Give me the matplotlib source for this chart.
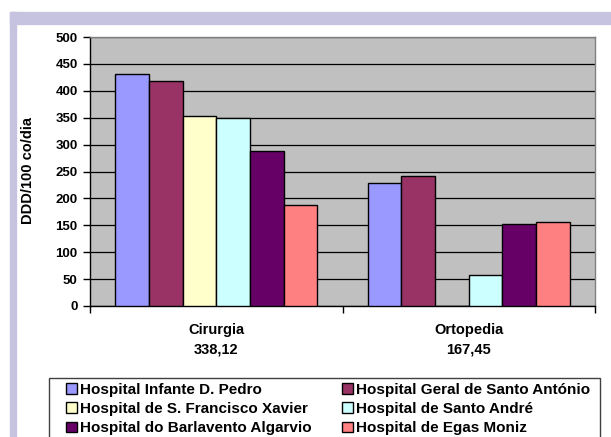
import matplotlib
matplotlib.use("Agg")
import matplotlib.pyplot as plt
from matplotlib.patches import Rectangle
import numpy as np

plt.rcParams['font.family'] = ['Liberation Sans', 'DejaVu Sans']
plt.rcParams['font.weight'] = 'bold'

categories = ["Cirurgia", "Ortopedia"]
category_means = ["338,12", "167,45"]
hospitals = [
    "Hospital Infante D. Pedro",
    "Hospital Geral de Santo António",
    "Hospital de S. Francisco Xavier",
    "Hospital de Santo André",
    "Hospital do Barlavento Algarvio",
    "Hospital de Egas Moniz",
]
infante = [432, 229]
geral = [418, 242]
francisco = [353, 0]
andre = [350, 58]
barlavento = [289, 153]
egas = [187, 157]
values = [infante, geral, francisco, andre, barlavento, egas]
colors = ["#9999FF", "#993366", "#FFFFCC", "#CCFFFF", "#660066", "#FF8080"]
yticks = [0, 50, 100, 150, 200, 250, 300, 350, 400, 450, 500]

W, H = 611, 437
fig = plt.figure(figsize=(W / 100, H / 100), dpi=100)
fig.patch.set_facecolor("white")
lav = "#C6C3E1"
fig.patches.append(Rectangle((10 / W, 1 - 24 / H), 1 - 10 / W, 12 / H,
                             transform=fig.transFigure, color=lav, zorder=0))
fig.patches.append(Rectangle((10 / W, 0), 6 / W, 1 - 12 / H,
                             transform=fig.transFigure, color=lav, zorder=0))
# legend frame (extends past the bottom edge)
fig.patches.append(Rectangle((49 / W, -0.05), (600 - 49) / W, 0.05 + 1 - 378 / H,
                             transform=fig.transFigure, facecolor="white",
                             edgecolor="#404040", linewidth=1.0, zorder=1))

ax = fig.add_axes([90 / W, 1 - 306 / H, 505 / W, 269 / H])
ax.set_facecolor("#C0C0C0")

x = np.arange(len(categories))
n = len(hospitals)
bw = 0.8 / n
handles = []
for i, (name, vals, c) in enumerate(zip(hospitals, values, colors)):
    b = ax.bar(x - 0.4 + bw * (i + 0.5), vals, width=bw, color=c,
               edgecolor="black", linewidth=1.0, label=name, zorder=3)
    handles.append(b)

ax.set_xlim(-0.5, len(categories) - 0.5)
ax.set_ylim(0, 500)
ax.set_yticks(yticks)
ax.set_yticklabels([str(v) for v in yticks], fontsize=9.5, fontweight="bold")
ax.yaxis.grid(True, color="black", linewidth=0.9, zorder=1)
ax.set_axisbelow(True)
ax.tick_params(axis="y", direction="out", length=5, width=1, pad=4)

ax.set_xticks(x)
ax.set_xticklabels([f"{c}\n{m}" for c, m in zip(categories, category_means)],
                   fontsize=10.5, fontweight="bold", linespacing=1.55)
ax.set_xticks(np.arange(-0.5, len(categories)), minor=True)
ax.tick_params(axis="x", which="major", length=0, pad=12)
ax.tick_params(axis="x", which="minor", direction="out", length=5, width=1)

for s in ["left", "bottom"]:
    ax.spines[s].set_color("black")
    ax.spines[s].set_linewidth(1.0)
for s in ["top", "right"]:
    ax.spines[s].set_color("#808080")
    ax.spines[s].set_linewidth(1.0)

fig.text(28 / W, 1 - 170 / H, "DDD/100 co/dia", rotation=90, ha="center",
         va="center", fontsize=10.5, fontweight="bold")

legend_kw = dict(loc="upper left", borderaxespad=0, frameon=False,
                 handlelength=0.7, handleheight=0.7, handletextpad=0.2,
                 labelspacing=0.34, borderpad=0,
                 prop={"weight": "bold", "size": 11})
cols = [([0, 2, 4], 66), ([1, 3, 5], 342)]
for idx, xpix in cols:
    lg = fig.legend([handles[i] for i in idx], [hospitals[i] for i in idx],
                    bbox_to_anchor=(xpix / W, 1 - 383 / H), **legend_kw)
    lg.set_zorder(5)

fig.savefig("out.png", dpi=100)
